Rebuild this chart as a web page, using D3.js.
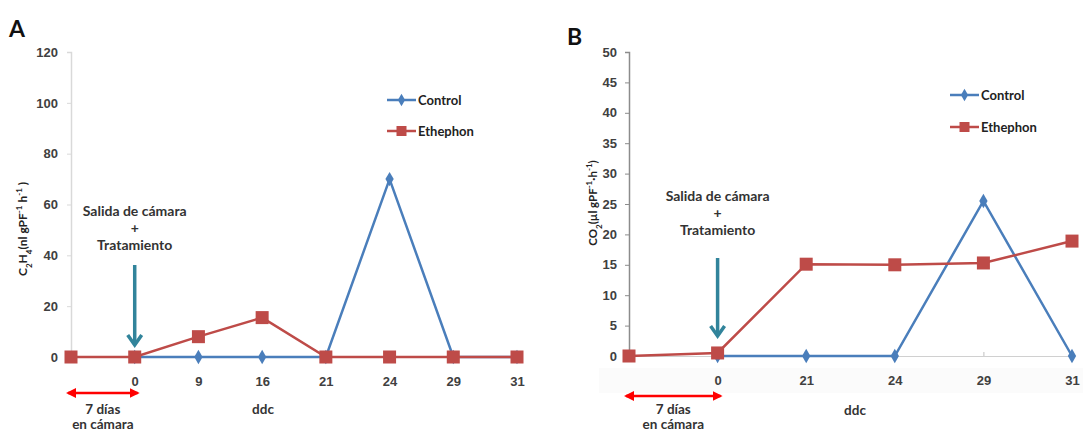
<!DOCTYPE html>
<html>
<head>
<meta charset="utf-8">
<script src="https://cdn.jsdelivr.net/npm/d3@7"></script>
<style>
  body { margin: 0; background: #fff; }
  svg { font-family: Lato, "Open Sans", sans-serif; }
  .tick text { font-weight: bold; fill: #404040; font-size: 13px; }
</style>
</head>
<body>
<svg id="chart" width="1083" height="432"></svg>
<script>
// panel A: ethylene
var catsA = ["", "0", "9", "16", "21", "24", "29", "31"];
var controlA = [null, 0, 0, 0, 0, 70, 0, 0];
var ethephonA = [0, 0, 8, 15.5, 0, 0, 0, 0];
var ticksA = [0, 20, 40, 60, 80, 100, 120];

// panel B: CO2
var catsB = ["", "0", "21", "24", "29", "31"];
var controlB = [null, 0, 0, 0, 25.5, 0];
var ethephonB = [0, 0.5, 15.1, 15, 15.3, 18.9];
var ticksB = [0, 5, 10, 15, 20, 25, 30, 35, 40, 45, 50];

var blue = "#4a7ebb", red = "#be4b48", teal = "#31849b";

var svg = d3.select("#chart");

var defs = svg.append("defs");
defs.append("marker").attr("id", "rh").attr("viewBox", "0 0 10 10")
    .attr("refX", 8).attr("refY", 5).attr("markerWidth", 4).attr("markerHeight", 4)
    .attr("orient", "auto-start-reverse")
  .append("path").attr("d", "M0,0L10,5L0,10z").attr("fill", "#ff0000");

function drawPanel(p) {
  var g = svg.append("g");
  var idx = p.cats.map(function(d, i) { return i; });

  var x = d3.scalePoint().domain(idx).range([p.x0, p.x1]);
  var y = d3.scaleLinear().domain([0, p.ymax]).range([p.y0, p.y1]);

  if (p.band) {
    g.append("rect").attr("x", p.x0 - 30).attr("y", p.y0 + 12).attr("width", p.x1 - p.x0 + 45)
        .attr("height", 25).attr("fill", "#fbfbfb");
  }

  // y axis
  var ya = g.append("g").attr("transform", "translate(" + p.x0 + ",0)")
      .call(d3.axisLeft(y).tickValues(p.ticks).tickSize(4).tickPadding(p.tickPad));
  ya.select(".domain").attr("stroke", p.axisColor).attr("stroke-width", 1.5);
  ya.selectAll(".tick line").attr("stroke", p.axisColor);

  // x axis
  var xa = g.append("g").attr("transform", "translate(0," + p.y0 + ")")
      .call(d3.axisBottom(x).tickSize(-4).tickPadding(20).tickFormat(function(i) { return p.cats[i]; }));
  xa.select(".domain").attr("stroke", "#d0d0d0");
  xa.selectAll(".tick line").attr("stroke", "#c0c0c0");

  // panel letter
  g.append("text").attr("x", p.letterX).attr("y", p.letterY)
      .attr("font-size", 23).attr("font-weight", "bold").attr("fill", "#111")
      .text(p.letter);

  // y label
  var yl = g.append("text")
      .attr("transform", "translate(" + p.ylabX + "," + p.ylabY + ") rotate(-90)")
      .attr("text-anchor", "middle").attr("font-size", p.ylabSize).attr("font-weight", "bold").attr("fill", "#222");
  p.ylab.forEach(function(s) {
    var t = yl.append("tspan").text(s[0]);
    if (s[1] === "sub") t.attr("font-size", 8).attr("baseline-shift", "sub");
    if (s[1] === "sup") t.attr("font-size", 8).attr("baseline-shift", "super");
  });

  // series
  var line = d3.line()
      .defined(function(d) { return d != null; })
      .x(function(d, i) { return x(i); })
      .y(function(d) { return y(d); });

  g.append("path").datum(p.control).attr("d", line)
      .attr("fill", "none").attr("stroke", blue).attr("stroke-width", 2.5);
  g.selectAll(".dia").data(p.control.map(function(v, i) { return [i, v]; }).filter(function(d) { return d[1] != null; }))
    .enter().append("path")
      .attr("d", d3.symbol(d3.symbolDiamond, 60))
      .attr("transform", function(d) { return "translate(" + x(d[0]) + "," + y(d[1]) + ")"; })
      .attr("fill", blue);

  g.append("path").datum(p.ethephon).attr("d", line)
      .attr("fill", "none").attr("stroke", red).attr("stroke-width", 2.5);
  g.selectAll(".sq").data(p.ethephon)
    .enter().append("rect")
      .attr("x", function(d, i) { return x(i) - 6.5; })
      .attr("y", function(d) { return y(d) - 6.5; })
      .attr("width", 13).attr("height", 13)
      .attr("fill", red);

  // legend
  var lg = g.append("g").attr("transform", "translate(" + p.legX + "," + p.legY + ")");
  [["Control", blue, "dia"], ["Ethephon", red, "sq"]].forEach(function(s, i) {
    var row = lg.append("g").attr("transform", "translate(0," + (i * p.legGap) + ")");
    row.append("line").attr("x1", 0).attr("x2", 29).attr("stroke", s[1]).attr("stroke-width", 2.5);
    if (s[2] === "dia") {
      row.append("path").attr("d", d3.symbol(d3.symbolDiamond, 45)).attr("transform", "translate(14.5,0)").attr("fill", s[1]);
    } else {
      row.append("rect").attr("x", 9.5).attr("y", -5).attr("width", 10).attr("height", 10).attr("fill", s[1]);
    }
    row.append("text").attr("x", 31).attr("dy", "0.35em").attr("font-size", 13)
        .attr("font-weight", "bold").attr("fill", "#222").text(s[0]);
  });

  // annotation
  var ax = x(1);
  var ann = g.append("g").attr("font-size", 14).attr("font-weight", "bold").attr("fill", "#333")
      .attr("text-anchor", "middle");
  ["Salida de cámara", "+", "Tratamiento"].forEach(function(s, i) {
    ann.append("text").attr("x", ax).attr("y", p.annY + i * 17).text(s);
  });
  g.append("line").attr("x1", ax).attr("x2", ax).attr("y1", p.arrY0).attr("y2", p.arrY1 - 2)
      .attr("stroke", teal).attr("stroke-width", 3.5);
  g.append("path").attr("d", "M" + (ax - 7) + "," + (p.arrY1 - 10) + "L" + ax + "," + p.arrY1 + "L" + (ax + 7) + "," + (p.arrY1 - 10))
      .attr("fill", "none").attr("stroke", teal).attr("stroke-width", 3.5);

  // 7 days double arrow
  g.append("line").attr("x1", x(0) - 3).attr("x2", x(1) + 3).attr("y1", p.dblY).attr("y2", p.dblY)
      .attr("stroke", "#ff0000").attr("stroke-width", 2.5)
      .attr("marker-start", "url(#rh)").attr("marker-end", "url(#rh)");
  var dx = (x(0) + x(1)) / 2;
  g.append("text").attr("x", dx).attr("y", 414).attr("text-anchor", "middle")
      .attr("font-size", 13.5).attr("font-weight", "bold").attr("fill", "#333").text("7 días");
  g.append("text").attr("x", dx).attr("y", 429).attr("text-anchor", "middle")
      .attr("font-size", 13.5).attr("font-weight", "bold").attr("fill", "#333").text("en cámara");

  g.append("text").attr("x", p.ddcX).attr("y", p.ddcY).attr("text-anchor", "middle")
      .attr("font-size", 13.5).attr("font-weight", "bold").attr("fill", "#333").text("ddc");
}

drawPanel({
  cats: catsA, control: controlA, ethephon: ethephonA, ticks: ticksA, ymax: 120,
  x0: 71, x1: 517, y0: 357, y1: 52, tickPad: 9, axisColor: "#d9d9d9",
  letter: "A", letterX: 9, letterY: 37,
  ylab: [["C"], ["2", "sub"], ["H"], ["4", "sub"], ["(nl gPF"], ["-1", "sup"], [" h"], ["-1", "sup"], [" )"]],
  ylabX: 27, ylabY: 229, ylabSize: 12,
  legX: 387, legY: 100, legGap: 31,
  annY: 216, arrY0: 265, arrY1: 345, dblY: 393, ddcX: 263, ddcY: 414
});

drawPanel({
  cats: catsB, control: controlB, ethephon: ethephonB, ticks: ticksB, ymax: 50,
  x0: 629, x1: 1072, y0: 356, y1: 52, tickPad: 8, axisColor: "#8c8c8c", band: true,
  letter: "B", letterX: 567, letterY: 45,
  ylab: [["CO"], ["2", "sub"], ["(µl gPF"], ["-1", "sup"], ["·h"], ["-1", "sup"], [")"]],
  ylabX: 597, ylabY: 203, ylabSize: 11.5,
  legX: 950, legY: 95, legGap: 32,
  annY: 201, arrY0: 258, arrY1: 336, dblY: 396, ddcX: 855, ddcY: 415
});
</script>
</body>
</html>
